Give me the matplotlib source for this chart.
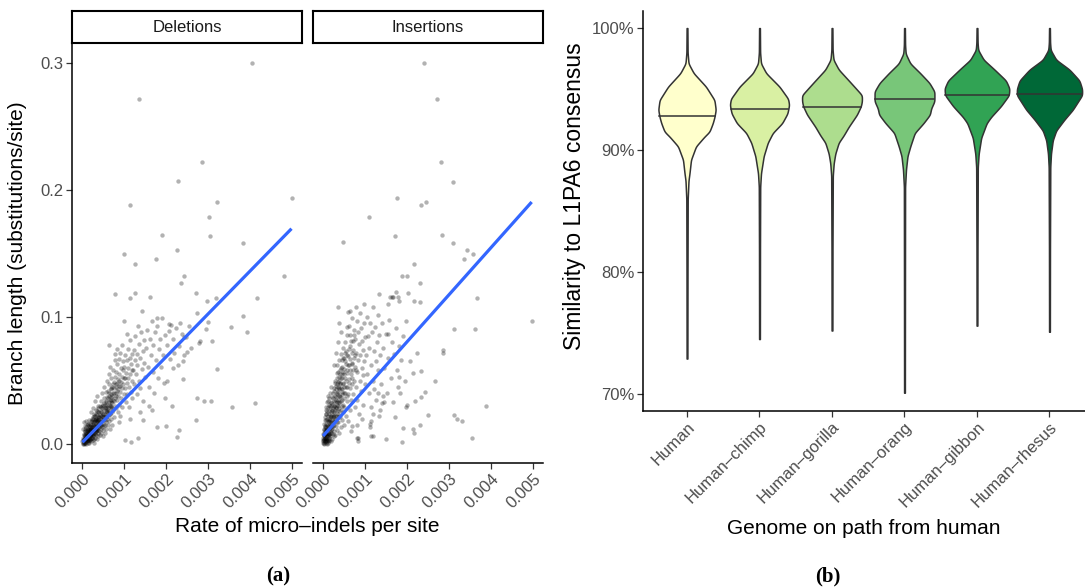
"""Branch length vs micro-indel rate (a) and L1PA6 similarity violins (b)."""
import matplotlib
matplotlib.use("Agg")
import matplotlib.pyplot as plt
import numpy as np

plt.rcParams["font.family"] = ["Liberation Sans", "DejaVu Sans"]

# ---- panel (a): rate (per mille) and branch length, one row per alignment ----
del_points = np.array([
    (0.02, 0.001), (0.03, 0.003), (0.05, 0.000), (0.05, 0.004), (0.06, 0.002), (0.07, 0.006),
    (0.08, 0.001), (0.08, 0.004), (0.09, 0.008), (0.10, 0.002), (0.10, 0.005), (0.11, 0.010),
    (0.12, 0.003), (0.12, 0.007), (0.13, 0.001), (0.13, 0.012), (0.14, 0.005), (0.14, 0.009),
    (0.15, 0.003), (0.15, 0.007), (0.16, 0.011), (0.16, 0.001), (0.17, 0.005), (0.17, 0.014),
    (0.18, 0.008), (0.18, 0.003), (0.19, 0.006), (0.19, 0.010), (0.20, 0.004), (0.20, 0.013),
    (0.04, 0.007), (0.06, 0.010), (0.09, 0.000), (0.11, 0.006), (0.13, 0.016), (0.03, 0.012),
    (0.07, 0.014), (0.10, 0.018), (0.16, 0.019), (0.05, 0.017),
    (0.21, 0.007), (0.21, 0.002), (0.22, 0.011), (0.22, 0.015), (0.23, 0.005), (0.23, 0.009),
    (0.24, 0.013), (0.24, 0.018), (0.25, 0.003), (0.25, 0.008), (0.26, 0.012), (0.26, 0.021),
    (0.27, 0.006), (0.27, 0.016), (0.28, 0.010), (0.28, 0.004), (0.29, 0.014), (0.29, 0.024),
    (0.30, 0.008), (0.30, 0.018), (0.31, 0.012), (0.31, 0.005), (0.32, 0.016), (0.32, 0.027),
    (0.33, 0.010), (0.33, 0.020), (0.34, 0.007), (0.34, 0.014), (0.35, 0.018), (0.35, 0.011),
    (0.36, 0.023), (0.36, 0.004), (0.37, 0.015), (0.37, 0.009), (0.38, 0.019), (0.38, 0.030),
    (0.39, 0.013), (0.39, 0.006), (0.40, 0.017), (0.40, 0.025), (0.26, 0.028), (0.30, 0.034),
    (0.22, 0.025), (0.35, 0.038), (0.28, 0.001),
    (0.41, 0.010), (0.41, 0.021), (0.42, 0.014), (0.42, 0.030), (0.43, 0.007), (0.43, 0.018),
    (0.44, 0.025), (0.44, 0.012), (0.45, 0.034), (0.45, 0.016), (0.46, 0.009), (0.46, 0.022),
    (0.47, 0.028), (0.47, 0.013), (0.48, 0.019), (0.48, 0.040), (0.49, 0.024), (0.49, 0.006),
    (0.50, 0.016), (0.50, 0.031), (0.51, 0.021), (0.51, 0.011), (0.52, 0.027), (0.52, 0.036),
    (0.53, 0.014), (0.53, 0.045), (0.54, 0.019), (0.54, 0.024), (0.55, 0.031), (0.55, 0.009),
    (0.56, 0.022), (0.56, 0.041), (0.57, 0.017), (0.57, 0.028), (0.58, 0.034), (0.58, 0.012),
    (0.59, 0.025), (0.59, 0.050), (0.60, 0.020), (0.60, 0.037),
    (0.61, 0.028), (0.61, 0.015), (0.62, 0.042), (0.62, 0.022), (0.63, 0.033), (0.63, 0.055),
    (0.64, 0.018), (0.64, 0.026), (0.65, 0.038), (0.65, 0.047), (0.66, 0.030), (0.66, 0.012),
    (0.67, 0.024), (0.67, 0.061), (0.68, 0.035), (0.68, 0.043), (0.69, 0.020), (0.69, 0.029),
    (0.70, 0.052), (0.70, 0.037), (0.71, 0.025), (0.71, 0.015), (0.72, 0.045), (0.72, 0.032),
    (0.73, 0.058), (0.74, 0.027), (0.74, 0.040), (0.75, 0.049), (0.76, 0.034), (0.76, 0.021),
    (0.77, 0.044), (0.78, 0.066), (0.78, 0.030), (0.79, 0.053), (0.80, 0.038),
    (0.81, 0.047), (0.81, 0.028), (0.82, 0.057), (0.83, 0.035), (0.83, 0.063), (0.84, 0.042),
    (0.85, 0.025), (0.85, 0.051), (0.86, 0.038), (0.87, 0.067), (0.87, 0.046), (0.88, 0.031),
    (0.89, 0.055), (0.90, 0.041), (0.90, 0.072), (0.91, 0.022), (0.92, 0.049), (0.92, 0.060),
    (0.93, 0.036), (0.94, 0.053), (0.95, 0.044), (0.95, 0.078), (0.96, 0.029), (0.97, 0.058),
    (0.98, 0.047), (0.98, 0.065), (0.99, 0.039), (1.00, 0.052), (0.84, 0.075), (0.88, 0.017),
    (1.01, 0.061), (1.02, 0.044), (1.03, 0.070), (1.04, 0.033), (1.05, 0.056), (1.06, 0.048),
    (1.07, 0.066), (1.08, 0.039), (1.09, 0.075), (1.10, 0.052), (1.10, 0.060), (1.11, 0.029),
    (1.12, 0.045), (1.13, 0.068), (1.14, 0.055), (1.15, 0.082), (1.16, 0.041), (1.17, 0.063),
    (1.18, 0.050), (1.19, 0.071), (1.20, 0.036), (1.06, 0.087), (1.13, 0.020), (1.18, 0.058),
    (1.03, 0.052),
    (1.21, 0.058), (1.23, 0.074), (1.24, 0.047), (1.26, 0.066), (1.27, 0.085), (1.28, 0.055),
    (1.30, 0.039), (1.31, 0.071), (1.32, 0.062), (1.33, 0.093), (1.35, 0.050), (1.36, 0.079),
    (1.38, 0.068), (1.39, 0.044), (1.41, 0.088), (1.42, 0.059), (1.44, 0.073), (1.45, 0.034),
    (1.47, 0.082), (1.48, 0.064), (1.50, 0.053), (1.37, 0.025),
    (1.52, 0.076), (1.55, 0.090), (1.57, 0.061), (1.59, 0.045), (1.62, 0.083), (1.64, 0.070),
    (1.66, 0.097), (1.68, 0.057), (1.70, 0.078), (1.72, 0.040), (1.74, 0.088), (1.77, 0.066),
    (1.79, 0.093), (1.81, 0.052), (1.83, 0.075), (1.85, 0.083), (1.88, 0.061), (1.90, 0.099),
    (1.92, 0.070), (1.95, 0.048), (1.97, 0.086), (1.60, 0.030),
    (2.03, 0.078), (2.06, 0.089), (2.10, 0.067), (2.13, 0.094), (2.17, 0.083), (2.20, 0.072),
    (2.24, 0.091), (2.28, 0.062), (2.32, 0.077), (2.37, 0.087), (2.42, 0.070), (2.48, 0.084),
    (2.55, 0.093), (2.60, 0.076), (0.64, 0.078), (0.78, 0.071),
    (4.04, 0.300), (1.36, 0.272), (2.86, 0.222), (2.28, 0.207), (1.15, 0.188), (3.22, 0.191),
    (4.99, 0.194), (3.03, 0.179), (1.90, 0.165), (3.05, 0.164), (3.84, 0.158), (1.01, 0.150),
    (2.26, 0.1525), (1.75, 0.146), (1.25, 0.142), (4.82, 0.1325), (2.42, 0.132), (2.35, 0.1265),
    (2.72, 0.119), (0.78, 0.118), (1.26, 0.1187), (1.61, 0.1155), (3.19, 0.1147), (4.16, 0.1147),
    (1.14, 0.115), (2.97, 0.113), (1.42, 0.105), (1.00, 0.097), (1.78, 0.099), (2.06, 0.0945),
    (2.33, 0.0955), (2.73, 0.103), (3.01, 0.0963), (2.95, 0.0903), (3.83, 0.1008), (3.94, 0.088),
    (3.56, 0.0924), (2.81, 0.0813), (3.10, 0.0813), (2.79, 0.0793), (3.22, 0.059), (2.73, 0.036),
    (2.90, 0.034), (3.06, 0.034), (3.58, 0.0294), (4.12, 0.0325), (2.71, 0.019), (2.30, 0.011),
    (2.25, 0.0058), (1.16, 0.0018), (1.02, 0.0031), (1.33, 0.0045), (1.78, 0.0136), (2.00, 0.014),
    (2.40, 0.051), (2.17, 0.0596), (1.98, 0.036), (2.14, 0.030), (2.40, 0.065), (2.49, 0.0727),
    (2.43, 0.0845), (2.02, 0.050), (1.66, 0.0268), (1.46, 0.019),
])

# extra rows in the crowded low-rate corner
del_core_points = np.array([
    (0.01, 0.002), (0.02, 0.000), (0.03, 0.005), (0.04, 0.001), (0.04, 0.004), (0.05, 0.008),
    (0.06, 0.005), (0.06, 0.003), (0.07, 0.001), (0.07, 0.010), (0.08, 0.007), (0.08, 0.012),
    (0.09, 0.004), (0.09, 0.006), (0.10, 0.009), (0.10, 0.013), (0.11, 0.002), (0.11, 0.004),
    (0.12, 0.011), (0.12, 0.015), (0.13, 0.007), (0.13, 0.009), (0.14, 0.003), (0.14, 0.016),
    (0.15, 0.010), (0.15, 0.012), (0.16, 0.006), (0.16, 0.008), (0.17, 0.009), (0.17, 0.002),
    (0.18, 0.013), (0.18, 0.016), (0.19, 0.004), (0.19, 0.012), (0.20, 0.008), (0.20, 0.010),
    (0.21, 0.012), (0.21, 0.018), (0.22, 0.006), (0.22, 0.008), (0.23, 0.013), (0.23, 0.020),
    (0.24, 0.010), (0.24, 0.005), (0.25, 0.015), (0.25, 0.011), (0.26, 0.007), (0.26, 0.017),
    (0.27, 0.011), (0.27, 0.020), (0.28, 0.013), (0.28, 0.022), (0.29, 0.009), (0.29, 0.017),
    (0.30, 0.012), (0.30, 0.022), (0.31, 0.009), (0.31, 0.019), (0.32, 0.012), (0.32, 0.020),
    (0.33, 0.015), (0.33, 0.024), (0.34, 0.010), (0.34, 0.019), (0.35, 0.014), (0.35, 0.026),
    (0.36, 0.012), (0.36, 0.018), (0.37, 0.021), (0.37, 0.028), (0.38, 0.011), (0.38, 0.016),
    (0.39, 0.020), (0.39, 0.025), (0.40, 0.013), (0.40, 0.021), (0.42, 0.017), (0.42, 0.023),
    (0.44, 0.020), (0.44, 0.029), (0.46, 0.015), (0.46, 0.026), (0.48, 0.022), (0.48, 0.030),
    (0.50, 0.019), (0.50, 0.024), (0.52, 0.021), (0.52, 0.032), (0.54, 0.028), (0.54, 0.015),
    (0.56, 0.026), (0.56, 0.033), (0.58, 0.021), (0.58, 0.029), (0.60, 0.031), (0.60, 0.025),
    (0.62, 0.027), (0.62, 0.036), (0.64, 0.031), (0.64, 0.040), (0.66, 0.024), (0.66, 0.035),
    (0.68, 0.030), (0.68, 0.039), (0.70, 0.033), (0.70, 0.044), (0.72, 0.028), (0.72, 0.038),
    (0.74, 0.035), (0.74, 0.047), (0.76, 0.040), (0.78, 0.036), (0.80, 0.045), (0.82, 0.040),
    (0.84, 0.048), (0.86, 0.043), (0.88, 0.050), (0.90, 0.046),
])

ins_points = np.array([
    (0.01, 0.001), (0.02, 0.004), (0.03, 0.000), (0.03, 0.007), (0.04, 0.002), (0.05, 0.005),
    (0.05, 0.010), (0.06, 0.001), (0.06, 0.013), (0.07, 0.003), (0.07, 0.008), (0.08, 0.006),
    (0.08, 0.016), (0.09, 0.002), (0.09, 0.011), (0.10, 0.004), (0.10, 0.020), (0.11, 0.007),
    (0.11, 0.014), (0.12, 0.001), (0.12, 0.009), (0.13, 0.018), (0.13, 0.005), (0.14, 0.012),
    (0.14, 0.024), (0.15, 0.003), (0.15, 0.008), (0.16, 0.015), (0.16, 0.028), (0.17, 0.006),
    (0.17, 0.019), (0.18, 0.011), (0.18, 0.002), (0.19, 0.022), (0.19, 0.009), (0.20, 0.016),
    (0.20, 0.032), (0.21, 0.004), (0.21, 0.013), (0.22, 0.026), (0.22, 0.019), (0.23, 0.008),
    (0.23, 0.036), (0.24, 0.014), (0.24, 0.021), (0.25, 0.030), (0.25, 0.006), (0.02, 0.009),
    (0.04, 0.014), (0.06, 0.019), (0.08, 0.024), (0.10, 0.000), (0.12, 0.029), (0.14, 0.002),
    (0.04, 0.021), (0.09, 0.033), (0.16, 0.040), (0.18, 0.045), (0.11, 0.038), (0.07, 0.027),
    (0.26, 0.017), (0.26, 0.042), (0.27, 0.010), (0.27, 0.025), (0.28, 0.033), (0.28, 0.050),
    (0.29, 0.019), (0.29, 0.007), (0.30, 0.028), (0.30, 0.046), (0.31, 0.037), (0.31, 0.014),
    (0.32, 0.022), (0.32, 0.056), (0.33, 0.031), (0.33, 0.011), (0.34, 0.040), (0.34, 0.062),
    (0.35, 0.024), (0.35, 0.049), (0.36, 0.017), (0.36, 0.035), (0.37, 0.053), (0.37, 0.028),
    (0.38, 0.043), (0.38, 0.009), (0.39, 0.066), (0.39, 0.032), (0.40, 0.021), (0.40, 0.047),
    (0.41, 0.038), (0.41, 0.058), (0.42, 0.013), (0.42, 0.027), (0.43, 0.071), (0.43, 0.044),
    (0.44, 0.035), (0.44, 0.052), (0.45, 0.019), (0.45, 0.061), (0.46, 0.041), (0.46, 0.030),
    (0.47, 0.076), (0.47, 0.048), (0.48, 0.025), (0.48, 0.057), (0.49, 0.036), (0.49, 0.068),
    (0.50, 0.045), (0.50, 0.015), (0.35, 0.080), (0.30, 0.072), (0.42, 0.088), (0.38, 0.095),
    (0.27, 0.062),
    (0.51, 0.055), (0.51, 0.029), (0.52, 0.080), (0.53, 0.040), (0.53, 0.065), (0.54, 0.022),
    (0.55, 0.050), (0.55, 0.073), (0.56, 0.034), (0.57, 0.086), (0.57, 0.058), (0.58, 0.045),
    (0.59, 0.018), (0.59, 0.069), (0.60, 0.039), (0.61, 0.062), (0.61, 0.093), (0.62, 0.051),
    (0.63, 0.027), (0.63, 0.077), (0.64, 0.044), (0.65, 0.067), (0.65, 0.086), (0.66, 0.035),
    (0.67, 0.055), (0.68, 0.099), (0.68, 0.072), (0.69, 0.047), (0.70, 0.063), (0.70, 0.014),
    (0.71, 0.081), (0.72, 0.039), (0.72, 0.058), (0.73, 0.090), (0.74, 0.050), (0.74, 0.068),
    (0.75, 0.029), (0.60, 0.104), (0.66, 0.010), (0.56, 0.092),
    (0.76, 0.061), (0.77, 0.083), (0.78, 0.045), (0.79, 0.072), (0.80, 0.097), (0.81, 0.035),
    (0.82, 0.057), (0.83, 0.088), (0.84, 0.066), (0.85, 0.024), (0.86, 0.079), (0.87, 0.050),
    (0.88, 0.103), (0.89, 0.070), (0.90, 0.042), (0.91, 0.091), (0.92, 0.060), (0.93, 0.081),
    (0.94, 0.031), (0.95, 0.074), (0.96, 0.054), (0.97, 0.095), (0.98, 0.065), (0.99, 0.047),
    (1.00, 0.084), (0.80, 0.015), (0.84, 0.005), (0.92, 0.020), (0.98, 0.110), (0.78, 0.108),
    (1.02, 0.070), (1.04, 0.100), (1.05, 0.055), (1.07, 0.085), (1.09, 0.040), (1.10, 0.076),
    (1.12, 0.095), (1.13, 0.062), (1.15, 0.029), (1.16, 0.088), (1.18, 0.050), (1.19, 0.108),
    (1.21, 0.073), (1.22, 0.043), (1.24, 0.092), (1.25, 0.065), (1.27, 0.035), (1.28, 0.080),
    (1.30, 0.102), (1.31, 0.058), (1.33, 0.022), (1.34, 0.086), (1.36, 0.070), (1.38, 0.047),
    (1.40, 0.095), (1.14, 0.0063), (1.20, 0.0063), (1.11, 0.016),
    (1.43, 0.076), (1.46, 0.060), (1.49, 0.087), (1.52, 0.040), (1.55, 0.068), (1.58, 0.098),
    (1.61, 0.052), (1.64, 0.080), (1.67, 0.033), (1.70, 0.071), (1.73, 0.091), (1.76, 0.058),
    (1.79, 0.045), (1.82, 0.077), (1.85, 0.066), (1.90, 0.085), (1.95, 0.050), (1.49, 0.0037),
    (1.71, 0.021), (1.55, 0.110),
    (2.40, 0.300), (2.71, 0.272), (2.80, 0.222), (3.09, 0.2065), (1.75, 0.194), (2.45, 0.191),
    (2.33, 0.188), (1.10, 0.179), (1.71, 0.164), (2.84, 0.165), (0.47, 0.159), (3.09, 0.158),
    (3.44, 0.1525), (3.58, 0.1496), (3.36, 0.146), (2.17, 0.142), (1.89, 0.132), (1.99, 0.1325),
    (2.30, 0.1265), (1.33, 0.118), (1.73, 0.1194), (2.02, 0.1187), (1.60, 0.1155), (1.66, 0.116),
    (1.78, 0.1155), (3.67, 0.1147), (0.35, 0.108), (0.63, 0.105), (1.64, 0.116), (1.80, 0.113),
    (2.17, 0.113), (2.31, 0.1115), (4.97, 0.0969), (3.12, 0.0908), (3.62, 0.0903), (2.86, 0.074),
    (2.85, 0.072), (2.67, 0.0499), (2.43, 0.041), (2.33, 0.0367), (2.19, 0.034), (2.00, 0.0307),
    (1.98, 0.029), (3.88, 0.030), (3.12, 0.023), (3.20, 0.0194), (3.32, 0.018), (2.49, 0.023),
    (2.31, 0.0147), (2.15, 0.012), (2.17, 0.009), (1.90, 0.0128), (1.89, 0.0018), (3.54, 0.0045),
    (2.07, 0.0656), (2.15, 0.056), (2.33, 0.0577), (2.23, 0.0719), (1.97, 0.0969), (1.55, 0.087),
    (1.82, 0.0525), (1.83, 0.0404), (1.43, 0.038), (1.40, 0.032), (1.45, 0.033), (1.30, 0.040),
    (1.36, 0.0268), (1.20, 0.024), (1.15, 0.018), (1.12, 0.013), (0.84, 0.0024), (0.80, 0.005),
])

ins_core_points = np.array([
    (0.01, 0.003), (0.02, 0.001), (0.02, 0.006), (0.03, 0.003), (0.03, 0.011), (0.04, 0.005),
    (0.04, 0.008), (0.05, 0.002), (0.05, 0.013), (0.06, 0.004), (0.06, 0.008), (0.07, 0.011),
    (0.07, 0.005), (0.08, 0.002), (0.08, 0.010), (0.09, 0.006), (0.09, 0.015), (0.10, 0.008),
    (0.10, 0.012), (0.11, 0.003), (0.11, 0.018), (0.12, 0.012), (0.12, 0.022), (0.13, 0.008),
    (0.13, 0.014), (0.14, 0.017), (0.14, 0.006), (0.15, 0.020), (0.15, 0.026), (0.16, 0.010),
    (0.16, 0.022), (0.17, 0.013), (0.17, 0.030), (0.18, 0.017), (0.18, 0.025), (0.19, 0.014),
    (0.19, 0.033), (0.20, 0.021), (0.20, 0.009), (0.21, 0.027), (0.21, 0.037), (0.22, 0.012),
    (0.22, 0.031), (0.23, 0.022), (0.23, 0.017), (0.24, 0.028), (0.24, 0.040), (0.25, 0.024),
    (0.25, 0.015), (0.26, 0.034), (0.26, 0.022), (0.27, 0.044), (0.27, 0.030), (0.28, 0.020),
    (0.28, 0.038), (0.29, 0.027), (0.29, 0.048), (0.30, 0.035), (0.30, 0.022), (0.31, 0.043),
    (0.31, 0.029), (0.32, 0.039), (0.32, 0.017), (0.33, 0.047), (0.33, 0.026), (0.34, 0.033),
    (0.34, 0.052), (0.35, 0.041), (0.35, 0.030), (0.36, 0.045), (0.36, 0.057), (0.37, 0.022),
    (0.37, 0.038), (0.38, 0.050), (0.38, 0.033), (0.39, 0.044), (0.39, 0.026), (0.40, 0.055),
    (0.40, 0.037), (0.41, 0.048), (0.42, 0.060), (0.42, 0.034), (0.43, 0.052), (0.44, 0.043),
    (0.45, 0.066), (0.45, 0.039), (0.46, 0.055), (0.47, 0.031), (0.48, 0.047), (0.48, 0.068),
    (0.50, 0.059), (0.50, 0.040), (0.52, 0.052), (0.52, 0.072), (0.54, 0.045), (0.54, 0.063),
    (0.56, 0.056), (0.58, 0.070), (0.58, 0.038), (0.60, 0.062), (0.62, 0.075), (0.62, 0.048),
    (0.64, 0.058), (0.66, 0.081), (0.68, 0.064), (0.70, 0.052), (0.72, 0.074), (0.74, 0.086),
    (0.76, 0.070), (0.78, 0.058), (0.00, 0.002), (0.00, 0.005), (0.01, 0.008), (0.02, 0.012),
    (0.03, 0.016), (0.05, 0.019), (0.06, 0.024), (0.08, 0.029), (0.10, 0.026), (0.12, 0.034),
    (0.14, 0.031), (0.15, 0.036),
])

# linear fits (slope, intercept) of branch length on rate
del_fit = (33.8, 0.001)
ins_fit = (37.1, 0.0063)

rate_ticks = [0.000, 0.001, 0.002, 0.003, 0.004, 0.005]
rate_labels = ["0.000", "0.001", "0.002", "0.003", "0.004", "0.005"]
branch_ticks = [0.0, 0.1, 0.2, 0.3]
branch_labels = ["0.0", "0.1", "0.2", "0.3"]

# ---- panel (b): similarity profiles (percent, relative density) per genome ----
genomes = ["Human", "Human–chimp", "Human–gorilla", "Human–orang", "Human–gibbon", "Human–rhesus"]
fill_colors = ["#FFFFCC", "#D9F0A3", "#ADDD8E", "#78C679", "#31A354", "#006837"]

human_sim = [100, 98.0, 97.1, 96.3, 95.2, 94.1, 93.3, 92.7, 92.2, 91.5, 91.1, 90.3, 89.2, 88.1, 87.5, 86.0, 80.0, 72.9]
human_dens = [0.4, 0.6, 1.5, 6.7, 19.0, 27.5, 28.8, 27.5, 25.8, 22.5, 17.5, 9.0, 4.0, 2.5, 1.5, 0.7, 0.5, 0.4]
chimp_sim = [100, 98.0, 97.1, 96.3, 95.2, 94.2, 93.7, 93.0, 92.2, 91.4, 90.6, 89.5, 88.1, 87.0, 82.0, 74.5]
chimp_dens = [0.4, 0.6, 1.5, 6.7, 20.0, 28.7, 29.7, 28.0, 22.7, 13.3, 8.3, 4.2, 1.5, 0.7, 0.5, 0.4]
gorilla_sim = [100, 98.2, 97.4, 96.6, 95.5, 94.5, 94.0, 93.6, 92.9, 91.9, 91.2, 90.6, 89.7, 88.9, 87.9, 82.0, 75.2]
gorilla_dens = [0.4, 0.6, 1.5, 6.7, 19.0, 30.0, 30.0, 29.0, 25.0, 16.7, 11.7, 6.7, 3.3, 1.7, 0.8, 0.5, 0.4]
orang_sim = [100, 98.6, 97.9, 97.1, 96.3, 95.5, 94.8, 94.0, 93.4, 92.9, 92.2, 91.4, 90.3, 89.5, 88.4, 87.0, 80.0, 70.1]
orang_dens = [0.4, 0.6, 1.2, 5.8, 15.8, 25.0, 30.0, 30.0, 26.7, 25.5, 19.0, 10.3, 5.8, 3.0, 1.5, 0.6, 0.5, 0.4]
gibbon_sim = [100, 98.8, 98.2, 97.4, 96.6, 95.7, 95.05, 94.5, 93.6, 92.7, 92.2, 91.0, 89.7, 88.6, 82.0, 75.6]
gibbon_dens = [0.4, 0.6, 1.2, 6.7, 17.5, 29.0, 32.5, 32.0, 24.0, 14.0, 9.7, 4.2, 1.7, 0.8, 0.5, 0.4]
rhesus_sim = [100, 98.8, 98.2, 97.4, 96.6, 95.7, 95.0, 94.5, 93.3, 92.5, 91.6, 90.8, 89.7, 88.6, 82.0, 75.1]
rhesus_dens = [0.4, 0.6, 1.2, 6.7, 20.0, 30.0, 32.7, 32.7, 23.3, 15.0, 6.7, 3.3, 1.5, 0.8, 0.5, 0.4]

medians = [92.8, 93.35, 93.55, 94.2, 94.5, 94.6]
sim_ticks = [70, 80, 90, 100]

profiles = [
    (human_sim, human_dens), (chimp_sim, chimp_dens), (gorilla_sim, gorilla_dens),
    (orang_sim, orang_dens), (gibbon_sim, gibbon_dens), (rhesus_sim, rhesus_dens),
]

W, H = 1085, 588
TICK_GREY = "#4D4D4D"
LINE_GREY = "#333333"


def frame(left, top, right, bottom):
    """Axes rectangle from pixel edges (origin at top-left)."""
    return [left / W, 1 - bottom / H, (right - left) / W, (bottom - top) / H]


def style_axis(ax):
    for side in ("top", "right"):
        ax.spines[side].set_visible(False)
    for side in ("left", "bottom"):
        ax.spines[side].set_linewidth(1.1)
        ax.spines[side].set_color("black")
    ax.tick_params(length=4, width=0.9, color=LINE_GREY, labelcolor=TICK_GREY, labelsize=12, pad=2)


def rotated_xlabels(ax, ticks, labels):
    ax.set_xticks(ticks)
    ax.set_xticklabels(labels, rotation=45, ha="right", va="top", rotation_mode="anchor")


fig = plt.figure(figsize=(W / 100, H / 100), dpi=100)

facets = [
    ("Deletions", np.vstack([del_points, del_core_points]), del_fit, (72, 302)),
    ("Insertions", np.vstack([ins_points, ins_core_points]), ins_fit, (313, 543)),
]
for i, (name, pts, (slope, icpt), (x0, x1)) in enumerate(facets):
    ax = fig.add_axes(frame(x0, 43, x1, 463))
    rate = pts[:, 0] / 1000
    branch = pts[:, 1]
    ax.scatter(rate, branch, s=10, color="black", alpha=0.3, linewidths=0, zorder=2)
    xs = np.array([rate.min(), rate.max()])
    ax.plot(xs, slope * xs + icpt, color="#3366FF", lw=2.3, solid_capstyle="butt", zorder=3)
    ax.set_xlim(-0.00024, 0.00524)
    ax.set_ylim(-0.015, 0.316)
    style_axis(ax)
    rotated_xlabels(ax, rate_ticks, rate_labels)
    ax.set_yticks(branch_ticks)
    if i == 0:
        ax.set_yticklabels(branch_labels)
    else:
        ax.spines["left"].set_visible(False)
        ax.tick_params(axis="y", left=False, labelleft=False)

    strip = fig.add_axes(frame(x0, 11, x1, 43))
    strip.set_xticks([])
    strip.set_yticks([])
    for sp in strip.spines.values():
        sp.set_linewidth(1.5)
        sp.set_color("black")
    strip.text(0.5, 0.5, name, ha="center", va="center", fontsize=12, color="#1A1A1A",
               transform=strip.transAxes)

fig.text(18 / W, 1 - 253 / H, "Branch length (substitutions/site)", rotation=90,
         ha="center", va="center", fontsize=15)
fig.text(307 / W, 1 - 527 / H, "Rate of micro–indels per site", ha="center", va="center", fontsize=15)

# violins
axv = fig.add_axes(frame(643, 11, 1085, 411))
peak = max(max(d) for _, d in profiles)
for pos, ((sim, dens), color, med) in enumerate(zip(profiles, fill_colors, medians), start=1):
    sim_a = np.array(sim)[::-1]
    dens_a = np.array(dens)[::-1]
    grid = np.arange(sim_a[0], sim_a[-1] + 1e-9, 0.01)
    width = np.interp(grid, sim_a, dens_a)
    # light gaussian smoothing so the outline reads as a kernel density
    k = np.arange(-40, 41) * 0.01
    kern = np.exp(-0.5 * (k / 0.12) ** 2)
    kern /= kern.sum()
    width = np.convolve(np.pad(width, 40, mode="edge"), kern, mode="valid")
    half = width / peak * 0.45
    axv.fill_betweenx(grid, pos - half, pos + half, facecolor=color, edgecolor=LINE_GREY,
                      linewidth=1.1, zorder=2)
    mh = np.interp(med, grid, half)
    axv.plot([pos - mh, pos + mh], [med, med], color=LINE_GREY, lw=1.1, zorder=3)

axv.set_xlim(0.393, 6.49)
axv.set_ylim(68.6, 101.4)
style_axis(axv)
axv.set_yticks(sim_ticks)
axv.set_yticklabels([f"{t}%" for t in sim_ticks])
rotated_xlabels(axv, range(1, len(genomes) + 1), genomes)

fig.text(575 / W, 1 - 196 / H, "Similarity to L1PA6 consensus", rotation=90,
         ha="center", va="center", fontsize=16.5)
fig.text(864 / W, 1 - 529 / H, "Genome on path from human", ha="center", va="center", fontsize=15)

for label, cx in (("(a)", 278), ("(b)", 828)):
    fig.text(cx / W, 1 - 576 / H, label, ha="center", va="center", fontsize=15,
             fontweight="bold", family=["Liberation Serif", "DejaVu Serif"])

fig.savefig("out.png", dpi=100)
